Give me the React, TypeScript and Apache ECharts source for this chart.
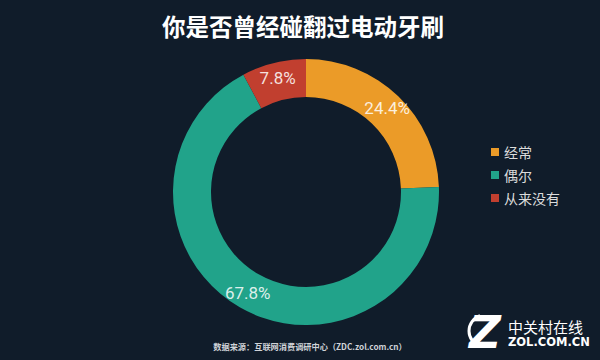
import React, { useEffect, useRef } from "react";
import * as echarts from "echarts";

const title = "你是否曾经碰翻过电动牙刷";
const categories = ["经常", "偶尔", "从来没有"];
const values = [24.4, 67.8, 7.8];
const colors = ["#eb9b28", "#21a38a", "#c13f2f"];
const sourceText = "数据来源：互联网消费调研中心（ZDC.zol.com.cn）";

export default function App() {
  const ref = useRef<HTMLDivElement>(null);
  useEffect(() => {
    document.body.style.margin = "0";
    const chart = echarts.init(ref.current!, null, { renderer: "svg" });
    const font = "'Noto Sans CJK SC', 'Noto Sans', sans-serif";
    chart.setOption({
      animation: false,
      backgroundColor: "#101c2a",
      color: colors,
      title: {
        text: title,
        left: 298,
        textAlign: "center",
        top: 9,
        textStyle: { color: "#ffffff", fontSize: 23.5, fontWeight: "bold", fontFamily: font },
      },
      legend: {
        orient: "vertical",
        left: 486,
        top: 140,
        icon: "rect",
        itemWidth: 8,
        itemHeight: 8,
        itemGap: 9,
        data: categories,
        textStyle: { color: "#dcdcdc", fontSize: 14, fontFamily: font },
      },
      series: [
        {
          type: "pie",
          center: [306, 192],
          radius: [95, 133],
          startAngle: 90,
          clockwise: true,
          label: {
            show: true,
            position: "inside",
            formatter: (p: any) => p.value + "%",
            color: "rgba(255,255,255,0.85)",
            fontSize: 17,
            fontFamily: "Roboto, sans-serif",
          },
          labelLine: { show: false },
          emphasis: { disabled: true },
          data: categories.map((c, i) => ({ name: c, value: values[i] })),
        },
      ],
      graphic: [
        {
          type: "text",
          x: 310,
          y: 346,
          style: {
            text: sourceText,
            fill: "#cfd3d8",
            fontSize: 8.2,
            fontWeight: "bold",
            fontFamily: font,
            textAlign: "center",
            textVerticalAlign: "middle",
          },
        },
        {
          type: "text",
          x: 485,
          y: 332,
          style: {
            text: "Z",
            fill: "#ffffff",
            fontSize: 44,
            fontWeight: "bold",
            fontStyle: "italic",
            fontFamily: "'DejaVu Sans', sans-serif",
            textAlign: "center",
            textVerticalAlign: "middle",
          },
        },
        {
          type: "arc",
          shape: { cx: 485, cy: 331, r: 16, startAngle: Math.PI * 0.6, endAngle: Math.PI * 1.4 },
          style: { stroke: "#ffffff", lineWidth: 3, fill: "none" },
        },
        {
          type: "text",
          x: 508,
          y: 326,
          style: {
            text: "中关村在线",
            fill: "#ffffff",
            fontSize: 15,
            fontFamily: font,
            textAlign: "left",
            textVerticalAlign: "middle",
          },
        },
        {
          type: "text",
          x: 508,
          y: 342,
          style: {
            text: "ZOL.COM.CN",
            fill: "#ffffff",
            fontSize: 11.5,
            fontWeight: "bold",
            fontFamily: "'DejaVu Sans', sans-serif",
            textAlign: "left",
            textVerticalAlign: "middle",
          },
        },
      ],
    });
    return () => chart.dispose();
  }, []);
  return <div ref={ref} style={{ width: 600, height: 360 }} />;
}
